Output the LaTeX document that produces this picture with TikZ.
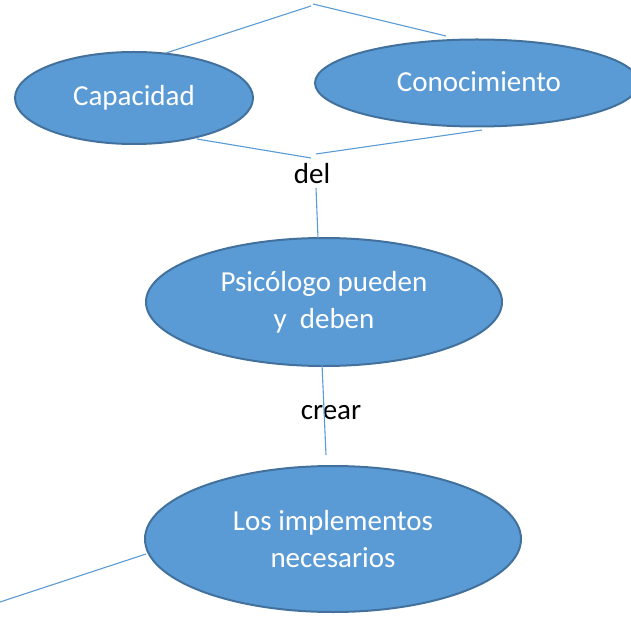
\documentclass[tikz,border=0pt]{standalone}
\usepackage{fontspec}
\setmainfont{Carlito}
\usetikzlibrary{shapes.geometric}
\definecolor{bubfill}{HTML}{5B9BD5}
\definecolor{bubline}{HTML}{41719C}
\definecolor{conn}{HTML}{5B9BD5}
\tikzset{
  bubble/.style={ellipse, draw=bubline, line width=2pt, fill=bubfill, inner sep=0pt,
    text=white, align=center, font=\fontsize{29}{37}\selectfont},
  lbl/.style={inner sep=0pt, text=black, font=\fontsize{29}{35}\selectfont},
  link/.style={draw=conn, line width=1.1pt}
}
\begin{document}
\begin{tikzpicture}[x=1pt,y=-1pt]
\useasboundingbox (0,0) rectangle (631,617);
\begin{scope}
\clip (0,0) rectangle (631,617);
\node[bubble, minimum width=238pt, minimum height=92pt] (cap) at (134,98) {Capacidad};
\node[bubble, minimum width=324pt, minimum height=87pt] (con) at (477,83) {};
\node[text=white, font=\fontsize{29}{37}\selectfont, inner sep=0pt] (cont) at (479,82) {Conocimiento};
\node[bubble, minimum width=356pt, minimum height=128pt] (psi) at (324,302) {Psicólogo pueden\\y\ \ deben};
\node[bubble, minimum width=376pt, minimum height=146pt] (imp) at (333,539) {Los implementos\\necesarios};
\end{scope}
\node[lbl] (del) at (312,174) {del};
\node[lbl] (crear) at (331,413) {crear};
% coordinates
\coordinate (t1) at (166,53);
\coordinate (t2) at (311,6);
\coordinate (t3) at (313,4);
\coordinate (t4) at (446,36);
\coordinate (d1) at (197,139);
\coordinate (d2) at (311,158);
\coordinate (d3) at (316,154);
\coordinate (d4) at (482,130);
\coordinate (d5) at (316,188);
\coordinate (d6) at (318,238);
\coordinate (c1) at (322,364);
\coordinate (c2) at (326,455);
\coordinate (b1) at (0,602);
\coordinate (b2) at (146,554);
\draw[link] (t1) -- (t2);
\draw[link] (t3) -- (t4);
\draw[link] (d1) -- (d2);
\draw[link] (d3) -- (d4);
\draw[link] (d5) -- (d6);
\draw[link] (c1) -- (c2);
\draw[link] (b1) -- (b2);
\end{tikzpicture}
\end{document}
